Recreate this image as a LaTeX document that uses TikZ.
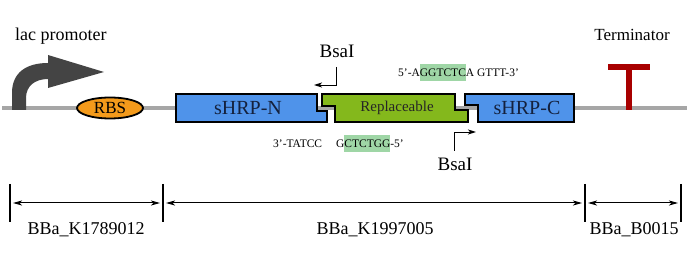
\documentclass[tikz,border=0pt]{standalone}
\usepackage{fontspec}
\setmainfont{Liberation Serif}
\usetikzlibrary{arrows.meta,shapes.geometric}
\definecolor{backbone}{HTML}{A6A6A6}
\definecolor{promo}{HTML}{444444}
\definecolor{rbsfill}{HTML}{F39A1B}
\definecolor{cdsblue}{HTML}{4F93EA}
\definecolor{repgreen}{HTML}{84B81C}
\definecolor{termred}{HTML}{A80000}
\definecolor{seqhl}{HTML}{9FD6A6}
\definecolor{cdstext}{HTML}{14213D}
\newcommand\hlseq[1]{{\setlength{\fboxsep}{0pt}\colorbox{seqhl}{\rule[-4.5pt]{0pt}{17pt}#1}}}
\tikzset{
  part/.style={draw=black, line width=1.6pt, line join=miter},
  label/.style={inner sep=0pt, font=\fontsize{18}{20}\selectfont},
  seq/.style={inner sep=0pt, anchor=west, font=\fontsize{11.5}{13}\selectfont},
  bsa/.style={line width=0.9pt, -{Stealth[length=8pt,width=5pt,inset=2pt]}},
  dimbar/.style={line width=2.6pt},
  dimarrow/.style={line width=1pt, {Stealth[length=9pt,width=5pt,inset=2.5pt]}-{Stealth[length=9pt,width=5pt,inset=2.5pt]}, shorten <=3pt, shorten >=3pt},
}
\begin{document}
\begin{tikzpicture}[x=1pt,y=-1pt]
\useasboundingbox (0,0) rectangle (700,261);
\fill[white] (0,0) rectangle (700,261);

% DNA backbone
\draw[backbone, line width=4.5pt] (2,108) -- (687,108);

% lac promoter: bent arrow
\fill[promo] (12,110) -- (12,93) .. controls (12,72) and (27,63) .. (48,63)
  -- (48,55) -- (104,72) -- (48,88) -- (48,79)
  .. controls (35,79) and (26,86) .. (26,98) -- (26,110) -- cycle;
\node[label, anchor=west] (lacp) at (15,36) {lac promoter};

% RBS
\node[ellipse, draw=black, line width=1.8pt, fill=rbsfill, minimum width=66pt,
      minimum height=21pt, inner sep=0pt, font=\fontsize{17}{19}\selectfont] (rbs) at (110,108) {RBS};

% sHRP-N with its right-hand overhang
\filldraw[part, fill=cdsblue] (176,94) -- (317,94) -- (317,111) -- (327,111)
  -- (327,122) -- (176,122) -- cycle;
\node[label, text=cdstext, font=\fontsize{20}{22}\selectfont] (hrpn) at (248,108) {sHRP-N};

% Replaceable fragment between the two BsaI sites
\filldraw[part, fill=repgreen] (322,94) -- (455,94) -- (455,110) -- (468,110)
  -- (468,122) -- (335,122) -- (335,106) -- (322,106) -- cycle;
\node[label, text=black!85, font=\fontsize{15}{17}\selectfont] (repl) at (397,108) {Replaceable};

% sHRP-C with its left-hand overhang
\filldraw[part, fill=cdsblue] (465,94) -- (574,94) -- (574,122) -- (478,122)
  -- (478,105) -- (465,105) -- cycle;
\node[label, text=cdstext, font=\fontsize{20}{22}\selectfont] (hrpc) at (527,108) {sHRP-C};

% Terminator
\fill[termred] (608,64) rectangle (650,70);
\fill[termred] (626,64) rectangle (632,110);
\node[label, font=\fontsize{17}{19}\selectfont] (term) at (632,35) {Terminator};

% BsaI sites
\node[label, font=\fontsize{19}{21}\selectfont] (bsaA) at (337,51) {BsaI};
\coordinate (bsaAfrom) at (336,67);
\coordinate (bsaAto) at (314,85);
\draw[bsa] (bsaAfrom) |- (bsaAto);
\node[label, font=\fontsize{19}{21}\selectfont] (bsaB) at (455,164) {BsaI};
\coordinate (bsaBfrom) at (454,151);
\coordinate (bsaBto) at (476,132);
\draw[bsa] (bsaBfrom) |- (bsaBto);

% overhang sequences
\node[seq] (seqtop) at (398,73) {5’-A\hlseq{GGTCTC}A GTTT-3’};
\node[seq] (seqbot) at (273,144) {3’-TATCC\hspace{14pt}G\hlseq{CTCTGG}-5’};

% part boundaries
\coordinate (d1) at (10,203);
\coordinate (d2) at (163,203);
\coordinate (d3) at (585,203);
\coordinate (d4) at (681,203);
\foreach \d in {d1,d2,d3,d4}
  \draw[dimbar] ([yshift=19pt]\d) -- ([yshift=-19pt]\d);
\draw[dimarrow] (d1) -- (d2);
\draw[dimarrow] (d2) -- (d3);
\draw[dimarrow] (d3) -- (d4);
\node[label] (bb1) at (86,230) {BBa\_K1789012};
\node[label] (bb2) at (375,230) {BBa\_K1997005};
\node[label] (bb3) at (634,230) {BBa\_B0015};
\end{tikzpicture}
\end{document}
